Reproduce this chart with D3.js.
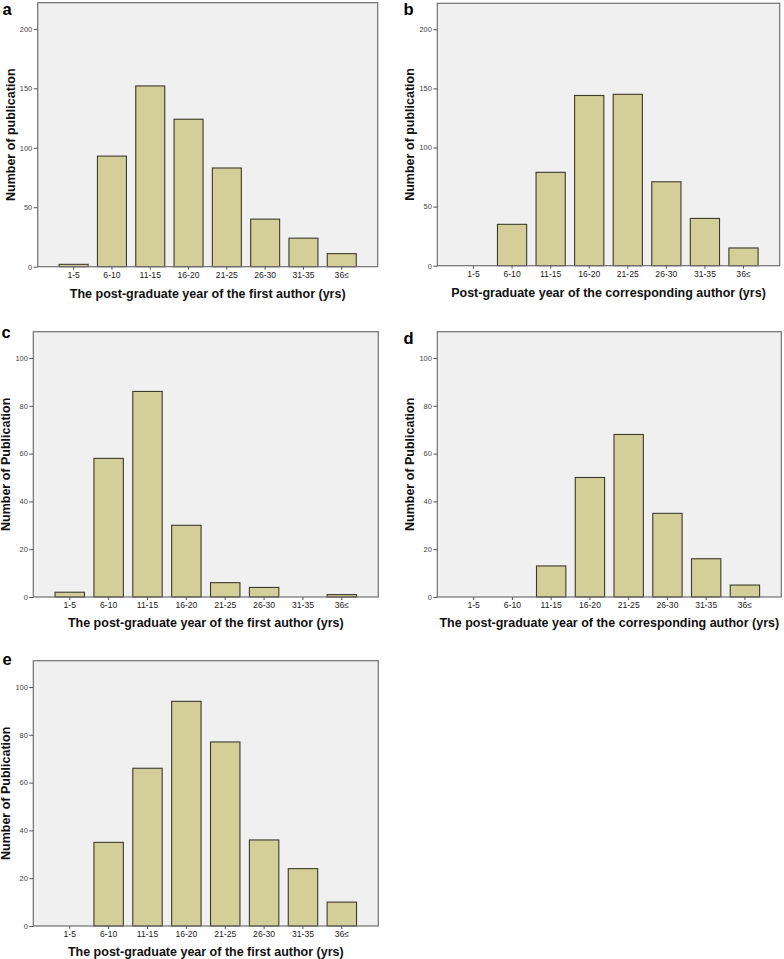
<!DOCTYPE html>
<html>
<head>
<meta charset="utf-8">
<script src="https://cdn.jsdelivr.net/npm/d3@7/dist/d3.min.js"></script>
<style>
  html, body { margin: 0; padding: 0; background: #fff; }
  svg { display: block; font-family: "Liberation Sans", Arial, sans-serif; }
</style>
</head>
<body>
<svg id="chart" width="784" height="959"></svg>
<script>
// ---- data ----
const categories = ["1-5", "6-10", "11-15", "16-20", "21-25", "26-30", "31-35", "36\u2264"];
const valuesA = [2, 93, 152, 124, 83, 40, 24, 11];
const valuesB = [0, 35, 79, 144, 145, 71, 40, 15];
const valuesC = [2, 58, 86, 30, 6, 4, 0, 1];
const valuesD = [0, 0, 13, 50, 68, 35, 16, 5];
const valuesE = [0, 35, 66, 94, 77, 36, 24, 10];
const ticksAB = [0, 50, 100, 150, 200];
const ticksCDE = [0, 20, 40, 60, 80, 100];
const letters = ["a", "b", "c", "d", "e"];
const xTitles = [
  "The post-graduate year of the first author (yrs)",
  "Post-graduate year of the corresponding author (yrs)",
  "The post-graduate year of the first author (yrs)",
  "The post-graduate year of the corresponding author (yrs)",
  "The post-graduate year of the first author (yrs)"
];
const yTitles = [
  "Number of publication",
  "Number of publication",
  "Number of Publication",
  "Number of Publication",
  "Number of Publication"
];

// ---- layout (frame boxes, letter positions) ----
const panels = [
  { values: valuesA, ticks: ticksAB, max: 222, x0: 37.7, x1: 377.7, y0: 2.7, y1: 266.7, lx: 2.5, ly: 14.8 },
  { values: valuesB, ticks: ticksAB, max: 222, x0: 437.3, x1: 779.7, y0: 3.3, y1: 265.7, lx: 403.5, ly: 14.8 },
  { values: valuesC, ticks: ticksCDE, max: 111, x0: 33.3, x1: 378.3, y0: 331.7, y1: 597, lx: 1.5, ly: 337.5 },
  { values: valuesD, ticks: ticksCDE, max: 111, x0: 437.3, x1: 781.3, y0: 331.7, y1: 597, lx: 403.5, ly: 344 },
  { values: valuesE, ticks: ticksCDE, max: 111, x0: 33.3, x1: 378.3, y0: 660.7, y1: 926, lx: 2.5, ly: 665 }
];

const svg = d3.select("#chart");

panels.forEach((p, i) => {
  const g = svg.append("g");
  const x = d3.scaleBand().domain(categories).range([p.x0, p.x1])
    .paddingInner(0.243).paddingOuter(0.56);
  const y = d3.scaleLinear().domain([0, p.max]).range([p.y1, p.y0]);

  // plot background
  g.append("rect")
    .attr("x", p.x0).attr("y", p.y0)
    .attr("width", p.x1 - p.x0).attr("height", p.y1 - p.y0)
    .attr("fill", "#f0f0f0");

  // bars
  g.selectAll("rect.bar").data(p.values).join("rect")
    .attr("class", "bar")
    .attr("x", (d, j) => x(categories[j]))
    .attr("y", d => y(d))
    .attr("width", x.bandwidth())
    .attr("height", d => y(0) - y(d))
    .attr("fill", "#d4cf98")
    .attr("stroke", "#3b3a2c")
    .attr("stroke-width", 1.1);

  // frame
  g.append("rect")
    .attr("x", p.x0).attr("y", p.y0)
    .attr("width", p.x1 - p.x0).attr("height", p.y1 - p.y0)
    .attr("fill", "none")
    .attr("stroke", "#707070")
    .attr("stroke-width", 1.2);

  // y axis
  const ya = g.append("g").attr("transform", `translate(${p.x0},0)`)
    .call(d3.axisLeft(y).tickValues(p.ticks).tickSize(4).tickPadding(1.5).tickFormat(d3.format("d")));
  ya.select(".domain").remove();
  ya.selectAll("line").attr("stroke", "#555");
  ya.selectAll("text").attr("font-size", 7.4).attr("fill", "#444")
    .attr("font-family", "'Liberation Sans', Arial, sans-serif");

  // x axis
  const xa = g.append("g").attr("transform", `translate(0,${p.y1})`)
    .call(d3.axisBottom(x).tickSize(3).tickPadding(2));
  xa.select(".domain").remove();
  xa.selectAll("line").attr("stroke", "#555");
  xa.selectAll("text").attr("font-size", 8.6).attr("fill", "#1a1a1a")
    .attr("font-family", "'Liberation Sans', Arial, sans-serif");

  // x title
  g.append("text")
    .attr("x", (p.x0 + p.x1) / 2)
    .attr("y", p.y1 + (i < 2 ? 31.5 : 29.5))
    .attr("text-anchor", "middle")
    .attr("font-size", 12.5)
    .attr("font-weight", "bold")
    .attr("fill", "#111")
    .text(xTitles[i]);

  // y title
  g.append("text")
    .attr("transform", `translate(${p.x0 - 27.5},${(p.y0 + p.y1) / 2}) rotate(-90)`)
    .attr("text-anchor", "middle")
    .attr("dy", "0.35em")
    .attr("font-size", 12.5)
    .attr("font-weight", "bold")
    .attr("fill", "#111")
    .text(yTitles[i]);

  // panel letter
  g.append("text")
    .attr("x", p.lx).attr("y", p.ly)
    .attr("font-size", 16.5)
    .attr("font-weight", "bold")
    .attr("fill", "#000")
    .text(letters[i]);
});
</script>
</body>
</html>
